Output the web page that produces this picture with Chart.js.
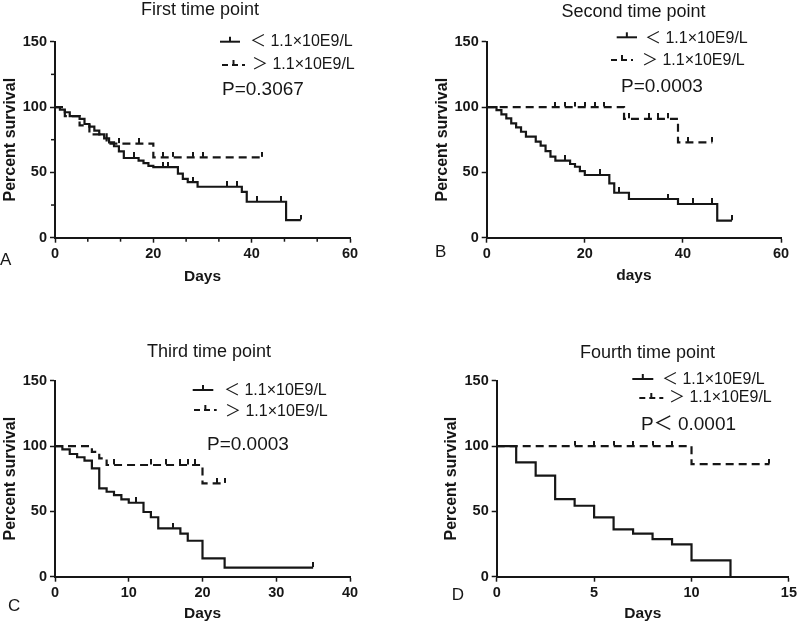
<!DOCTYPE html>
<html>
<head>
<meta charset="utf-8">
<script src="https://cdn.jsdelivr.net/npm/chart.js@4.4.0/dist/chart.umd.min.js"></script>
<style>
  body { margin: 0; background: #fff; }
  #wrap { position: relative; width: 800px; height: 623px; overflow: hidden; }
  canvas { position: absolute; }
</style>
</head>
<body>
<div id="wrap">
  <canvas id="panelA" width="400" height="290" style="left:0;top:0;width:400px;height:290px"></canvas>
  <canvas id="panelB" width="400" height="290" style="left:400px;top:0;width:400px;height:290px"></canvas>
  <canvas id="panelC" width="400" height="284" style="left:0;top:339px;width:400px;height:284px"></canvas>
  <canvas id="panelD" width="400" height="284" style="left:400px;top:339px;width:400px;height:284px"></canvas>
</div>
<script>
const INK = '#161616';
const FONT = "'Liberation Sans', Arial, 'Noto Sans CJK SC', sans-serif";

const groupLabels = ['＜ 1.1×10E9/L', '＞ 1.1×10E9/L'];
const yTicks = [0, 50, 100, 150];

// A - first time point
const aTitle = 'First time point';
const aPValue = 'P=0.3067';
const aXLabel = 'Days';
const aXTicks = [0, 20, 40, 60];
const aMinorX = [6.67, 13.33, 26.67, 33.33, 46.67, 53.33];
const aMinorY = [25, 75, 125];
const aLowDays = [0, 1, 2, 3, 5, 6, 7, 8, 9, 10, 11, 12, 13, 14, 17, 18, 19, 20, 25, 26, 27, 29, 38, 39, 47, 50];
const aLowSurv = [100, 98, 96, 93, 91, 87, 85, 82, 79, 76, 73, 70, 66, 61, 59, 57, 55, 54, 49, 45, 42.5, 39, 35, 27.5, 13.5, 13.5];
const aLowCensor = [16, 22, 23, 28, 35, 37, 41, 46, 50];
const aHighDays = [0, 2, 5, 7, 10.5, 20, 42];
const aHighSurv = [100, 93, 86, 79, 72, 61.5, 61.5];
const aHighCensor = [13, 17, 22, 24, 28, 30, 42];

// B - second time point
const bTitle = 'Second time point';
const bPValue = 'P=0.0003';
const bXLabel = 'days';
const bXTicks = [0, 20, 40, 60];
const bLowDays = [0, 2, 3, 4, 5, 6, 7, 8, 10, 11, 12, 13, 14, 17, 18, 19, 20, 25, 26, 29, 39, 47, 50];
const bLowSurv = [100, 97.7, 94.4, 91.3, 87.5, 84.5, 81.1, 77.3, 73.5, 70.4, 66.3, 62, 59, 56.4, 54.3, 51, 48, 41.6, 34.4, 29.6, 25.8, 13, 13];
const bLowCensor = [16, 23, 27, 37, 42, 46, 50];
const bHighDays = [0, 28, 39, 46];
const bHighSurv = [100, 91, 73, 73];
const bHighCensor = [14, 16, 18, 20, 22, 24, 29, 33, 35, 37, 41, 46];

// C - third time point
const cTitle = 'Third time point';
const cPValue = 'P=0.0003';
const cXLabel = 'Days';
const cXTicks = [0, 10, 20, 30, 40];
const cLowDays = [0, 1, 2, 3, 4, 5, 6, 7, 8, 9, 10, 12, 13, 14, 17, 18, 20, 23, 35];
const cLowSurv = [100, 97.5, 93.9, 91.4, 88.8, 82.9, 67.6, 65, 62.5, 59.2, 56.6, 49.5, 45.5, 37, 33, 27.5, 14, 7, 7];
const cLowCensor = [11, 16, 35];
const cHighDays = [0, 5, 6, 7, 20, 23];
const cHighSurv = [100, 95.6, 90.6, 85.5, 71.4, 71.4];
const cHighCensor = [8, 13, 15, 17, 18, 19, 22, 23];

// D - fourth time point
const dTitle = 'Fourth time point';
const dPValue = 'P＜ 0.0001';
const dXLabel = 'Days';
const dXTicks = [0, 5, 10, 15];
const dLowDays = [0, 1, 2, 3, 4, 5, 6, 7, 8, 9, 10, 12];
const dLowSurv = [100, 87.5, 77.3, 59.4, 54.3, 45.4, 36.2, 32.9, 28.8, 24.7, 12.5, 0];
const dLowCensor = [];
const dHighDays = [0, 10, 14];
const dHighSurv = [100, 86.2, 86.2];
const dHighCensor = [4, 5, 6, 7, 8, 9, 14];

// value of a step curve at time t
function survAt(days, surv, t) {
    let s = surv[0];
    for (let i = 0; i < days.length; i++) {
        if (days[i] <= t) s = surv[i];
    }
    return s;
}

// little upward tick used for censored cases
function censorMark() {
    const c = document.createElement('canvas');
    c.width = 2;
    c.height = 11;
    const g = c.getContext('2d');
    g.fillStyle = INK;
    g.fillRect(0, 0, 2, 5);
    return c;
}
const tickImg = censorMark();

function curve(days, surv, dashed) {
    return {
        data: days.map((d, i) => ({x: d, y: surv[i]})),
        showLine: true,
        stepped: 'before',
        borderColor: INK,
        borderWidth: 2.2,
        borderDash: dashed ? [8, 5] : [],
        pointRadius: 0,
        fill: false,
    };
}

function censored(days, surv, censor) {
    return {
        data: censor.map(d => ({x: d, y: survAt(days, surv, d)})),
        showLine: false,
        pointStyle: tickImg,
        pointRadius: 3,
    };
}

const panelText = {
    id: 'panelText',
    afterDraw(chart, args, o) {
        const ctx = chart.ctx;
        const area = chart.chartArea;
        const xs = chart.scales.x;
        const ys = chart.scales.y;
        ctx.save();
        ctx.fillStyle = INK;
        ctx.strokeStyle = INK;

        ctx.lineWidth = 1.5;
        (o.minorX || []).forEach(v => {
            const px = xs.getPixelForValue(v);
            ctx.beginPath();
            ctx.moveTo(px, area.bottom);
            ctx.lineTo(px, area.bottom + 4);
            ctx.stroke();
        });
        (o.minorY || []).forEach(v => {
            const py = ys.getPixelForValue(v);
            ctx.beginPath();
            ctx.moveTo(area.left, py);
            ctx.lineTo(area.left - 4, py);
            ctx.stroke();
        });

        ctx.textBaseline = 'middle';
        ctx.textAlign = 'center';
        ctx.font = '18px ' + FONT;
        ctx.fillText(o.title, o.titleX, o.titleY);

        ctx.textAlign = 'left';
        ctx.font = '17px ' + FONT;
        ctx.fillText(o.letter, o.letterX, o.letterY);

        ctx.font = '16px ' + FONT;
        o.rows.forEach((r, i) => {
            ctx.lineWidth = 2;
            ctx.setLineDash(i === 0 ? [] : [6, 4]);
            ctx.beginPath();
            ctx.moveTo(r.x1, r.y);
            ctx.lineTo(r.x2, r.y);
            ctx.stroke();
            ctx.setLineDash([]);
            const mx = (r.x1 + r.x2) / 2;
            ctx.beginPath();
            ctx.moveTo(mx, r.y);
            ctx.lineTo(mx, r.y - 5);
            ctx.stroke();
            ctx.fillText(groupLabels[i], r.tx, r.ty);
        });

        ctx.font = '19px ' + FONT;
        ctx.fillText(o.p, o.pX, o.pY);
        ctx.restore();
    }
};

function makePanel(id, s) {
    new Chart(document.getElementById(id), {
        type: 'scatter',
        data: {
            datasets: [
                curve(s.lowDays, s.lowSurv, false),
                curve(s.highDays, s.highSurv, true),
                censored(s.lowDays, s.lowSurv, s.lowCensor),
                censored(s.highDays, s.highSurv, s.highCensor),
            ]
        },
        options: {
            responsive: false,
            animation: false,
            layout: {padding: {left: s.padLeft, right: s.padRight, top: 41.7, bottom: 0}},
            scales: {
                x: {
                    type: 'linear',
                    min: 0,
                    max: s.xTicks[s.xTicks.length - 1],
                    afterBuildTicks: sc => { sc.ticks = s.xTicks.map(v => ({value: v})); },
                    afterFit: sc => { sc.height = s.xHeight; },
                    grid: {drawOnChartArea: false, tickLength: 5, tickColor: INK, tickWidth: 1.5},
                    border: {color: INK, width: 2},
                    ticks: {color: INK, padding: 3, font: {family: FONT, size: 14.5, weight: 'bold'}},
                    title: {
                        display: true, text: s.xLabel, color: INK,
                        padding: {top: 0, bottom: s.xTitlePad},
                        font: {family: FONT, size: 15.5, weight: 'bold'}
                    }
                },
                y: {
                    type: 'linear',
                    min: 0,
                    max: 150,
                    afterBuildTicks: sc => { sc.ticks = yTicks.map(v => ({value: v})); },
                    afterFit: sc => { sc.width = s.yWidth; },
                    grid: {drawOnChartArea: false, tickLength: 5, tickColor: INK, tickWidth: 1.5},
                    border: {color: INK, width: 2},
                    ticks: {color: INK, padding: 3, font: {family: FONT, size: 14.5, weight: 'bold'}},
                    title: {
                        display: true, text: 'Percent survival', color: INK,
                        padding: {top: 1, bottom: 0},
                        font: {family: FONT, size: 16, weight: 'bold'}
                    }
                }
            },
            plugins: {
                legend: {display: false},
                tooltip: {enabled: false},
                panelText: s.text
            }
        },
        plugins: [panelText]
    });
}

makePanel('panelA', {
    lowDays: aLowDays, lowSurv: aLowSurv, lowCensor: aLowCensor,
    highDays: aHighDays, highSurv: aHighSurv, highCensor: aHighCensor,
    xTicks: aXTicks, xLabel: aXLabel,
    padLeft: 0, padRight: 50, yWidth: 55, xHeight: 52.3, xTitlePad: 4,
    text: {
        title: aTitle, titleX: 200, titleY: 10,
        letter: 'A', letterX: 0, letterY: 260,
        rows: [
            {x1: 220, x2: 240, y: 41.7, tx: 250, ty: 42},
            {x1: 222, x2: 245, y: 65, tx: 252, ty: 65}
        ],
        p: aPValue, pX: 222, pY: 90,
        minorX: aMinorX, minorY: aMinorY
    }
});

makePanel('panelB', {
    lowDays: bLowDays, lowSurv: bLowSurv, lowCensor: bLowCensor,
    highDays: bHighDays, highSurv: bHighSurv, highCensor: bHighCensor,
    xTicks: bXTicks, xLabel: bXLabel,
    padLeft: 32, padRight: 19, yWidth: 54.7, xHeight: 52.3, xTitlePad: 5,
    text: {
        title: bTitle, titleX: 233.5, titleY: 12,
        letter: 'B', letterX: 35, letterY: 252,
        rows: [
            {x1: 216.7, x2: 237, y: 37.3, tx: 245, ty: 38.7},
            {x1: 211, x2: 233, y: 60, tx: 242, ty: 60.5}
        ],
        p: bPValue, pX: 221, pY: 86.7
    }
});

makePanel('panelC', {
    lowDays: cLowDays, lowSurv: cLowSurv, lowCensor: cLowCensor,
    highDays: cHighDays, highSurv: cHighSurv, highCensor: cHighCensor,
    xTicks: cXTicks, xLabel: cXLabel,
    padLeft: 0, padRight: 50, yWidth: 55, xHeight: 46.3, xTitlePad: 0,
    text: {
        title: cTitle, titleX: 209, titleY: 12.7,
        letter: 'C', letterX: 8, letterY: 267.7,
        rows: [
            {x1: 192.7, x2: 213.3, y: 51, tx: 224, ty: 51.5},
            {x1: 194, x2: 216.7, y: 71, tx: 225, ty: 73}
        ],
        p: cPValue, pX: 207, pY: 106
    }
});

makePanel('panelD', {
    lowDays: dLowDays, lowSurv: dLowSurv, lowCensor: dLowCensor,
    highDays: dHighDays, highSurv: dHighSurv, highCensor: dHighCensor,
    xTicks: dXTicks, xLabel: dXLabel,
    padLeft: 41, padRight: 9.3, yWidth: 55.7, xHeight: 46.3, xTitlePad: 0,
    text: {
        title: dTitle, titleX: 247.5, titleY: 14.3,
        letter: 'D', letterX: 51.7, letterY: 256,
        rows: [
            {x1: 232.3, x2: 253.3, y: 40, tx: 262, ty: 40.5},
            {x1: 239.3, x2: 263.3, y: 59, tx: 269, ty: 58.5}
        ],
        p: dPValue, pX: 241, pY: 86
    }
});
</script>
</body>
</html>
